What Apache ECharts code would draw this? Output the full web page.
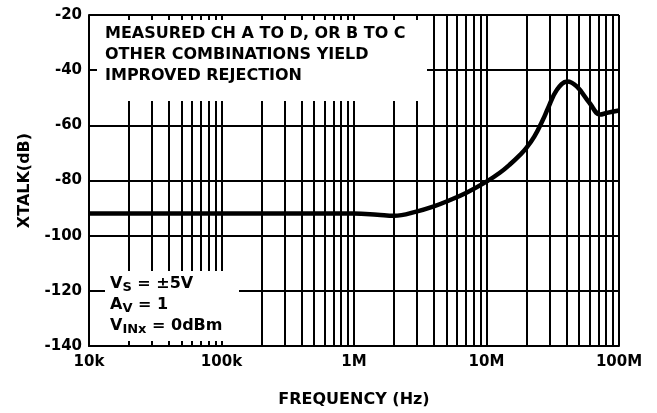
<!DOCTYPE html>
<html>
<head>
<meta charset="utf-8">
<script src="https://cdn.jsdelivr.net/npm/echarts@6/dist/echarts.min.js"></script>
<style>
  html, body { margin: 0; padding: 0; background: #fff; }
  #chart { width: 657px; height: 413px; }
</style>
</head>
<body>
<div id="chart"></div>
<script>
// crosstalk curve (Hz, dB)
const freqHz = [1e4, 1e5, 5e5, 1e6, 1.5e6, 2e6, 3e6, 4e6, 5e6, 7e6, 1e7, 1.26e7, 1.5e7, 1.8e7, 2e7, 2.3e7, 2.67e7, 2.9e7, 3.4e7, 4.07e7, 4.8e7, 6e7, 7.2e7, 8.1e7, 1e8];
const xtalkDb = [-92, -92, -92, -92, -92.4, -92.8, -91.2, -89.4, -87.6, -84.5, -80.4, -77.2, -74.2, -70.6, -68.2, -64, -57.9, -54, -47.1, -44.1, -45.9, -51.9, -56.1, -55.5, -54.6];

// minor log gridlines (2..9 of every decade)
const minorFreqs = [];
for (let d = 1e4; d < 1e8; d *= 10) {
  for (let k = 2; k <= 9; k++) minorFreqs.push(k * d);
}
const xTickValues = [1e4, 1e5, 1e6, 1e7, 1e8];
const xTickLabels = ['10k', '100k', '1M', '10M', '100M'];

const FONT = '"DejaVu Sans", Arial, sans-serif';
const labelFont = { fontFamily: FONT, fontWeight: 'bold', color: '#000' };
const gridLine = { color: '#000', width: 2, type: 'solid' };

const chart = echarts.init(document.getElementById('chart'));
const option = {
  animation: false,
  backgroundColor: '#fff',
  grid: { left: 89, right: 38, top: 15, bottom: 66 },
  xAxis: {
    type: 'log',
    logBase: 10,
    min: 1e4,
    max: 1e8,
    name: 'FREQUENCY (Hz)',
    nameLocation: 'middle',
    nameGap: 46,
    nameTextStyle: Object.assign({ fontSize: 16 }, labelFont),
    axisLine: { lineStyle: { color: '#000', width: 2 } },
    axisTick: { show: false },
    splitLine: { show: true, lineStyle: gridLine },
    axisLabel: Object.assign({
      fontSize: 15,
      margin: 9,
      formatter: function (v) {
        const i = xTickValues.findIndex(t => Math.abs(Math.log10(t) - Math.log10(v)) < 1e-6);
        return i >= 0 ? xTickLabels[i] : '';
      }
    }, labelFont)
  },
  yAxis: {
    type: 'value',
    min: -140,
    max: -20,
    interval: 20,
    name: 'XTALK(dB)',
    nameLocation: 'middle',
    nameGap: 56,
    nameRotate: 90,
    nameTextStyle: Object.assign({ fontSize: 16 }, labelFont),
    axisLine: { show: true, lineStyle: { color: '#000', width: 2 } },
    axisTick: { show: false },
    splitLine: { show: true, lineStyle: gridLine },
    axisLabel: Object.assign({ fontSize: 15, margin: 7 }, labelFont)
  },
  series: [{
    type: 'line',
    data: freqHz.map((f, i) => [f, xtalkDb[i]]),
    showSymbol: false,
    smooth: 0.4,
    lineStyle: { color: '#000', width: 4.5 },
    z: 5,
    markLine: {
      silent: true,
      symbol: ['none', 'none'],
      label: { show: false },
      lineStyle: gridLine,
      data: minorFreqs.map(f => ({ xAxis: f }))
    }
  }],
  graphic: [
    { type: 'rect', z: 100, shape: { x: 97, y: 20, width: 330, height: 81 }, style: { fill: '#fff' } },
    {
      type: 'text', z: 101, left: 105, top: 23,
      style: {
        text: 'MEASURED CH A TO D, OR B TO C\nOTHER COMBINATIONS YIELD\nIMPROVED REJECTION',
        font: 'bold 16px ' + FONT,
        lineHeight: 21,
        fill: '#000'
      }
    },
    { type: 'rect', z: 100, shape: { x: 105, y: 271, width: 134, height: 70 }, style: { fill: '#fff' } },
    {
      type: 'text', z: 101, left: 110, top: 273,
      style: {
        text: '{m|V}{s|S}{m| = ±5V}\n{m|A}{s|V}{m| = 1}\n{m|V}{s|INx}{m| = 0dBm}',
        rich: {
          m: { font: 'bold 16px ' + FONT, fill: '#000', lineHeight: 21 },
          s: { font: 'bold 13px ' + FONT, fill: '#000', lineHeight: 21, padding: [8, 0, 0, 0] }
        }
      }
    }
  ]
};
chart.setOption(option);
</script>
</body>
</html>
